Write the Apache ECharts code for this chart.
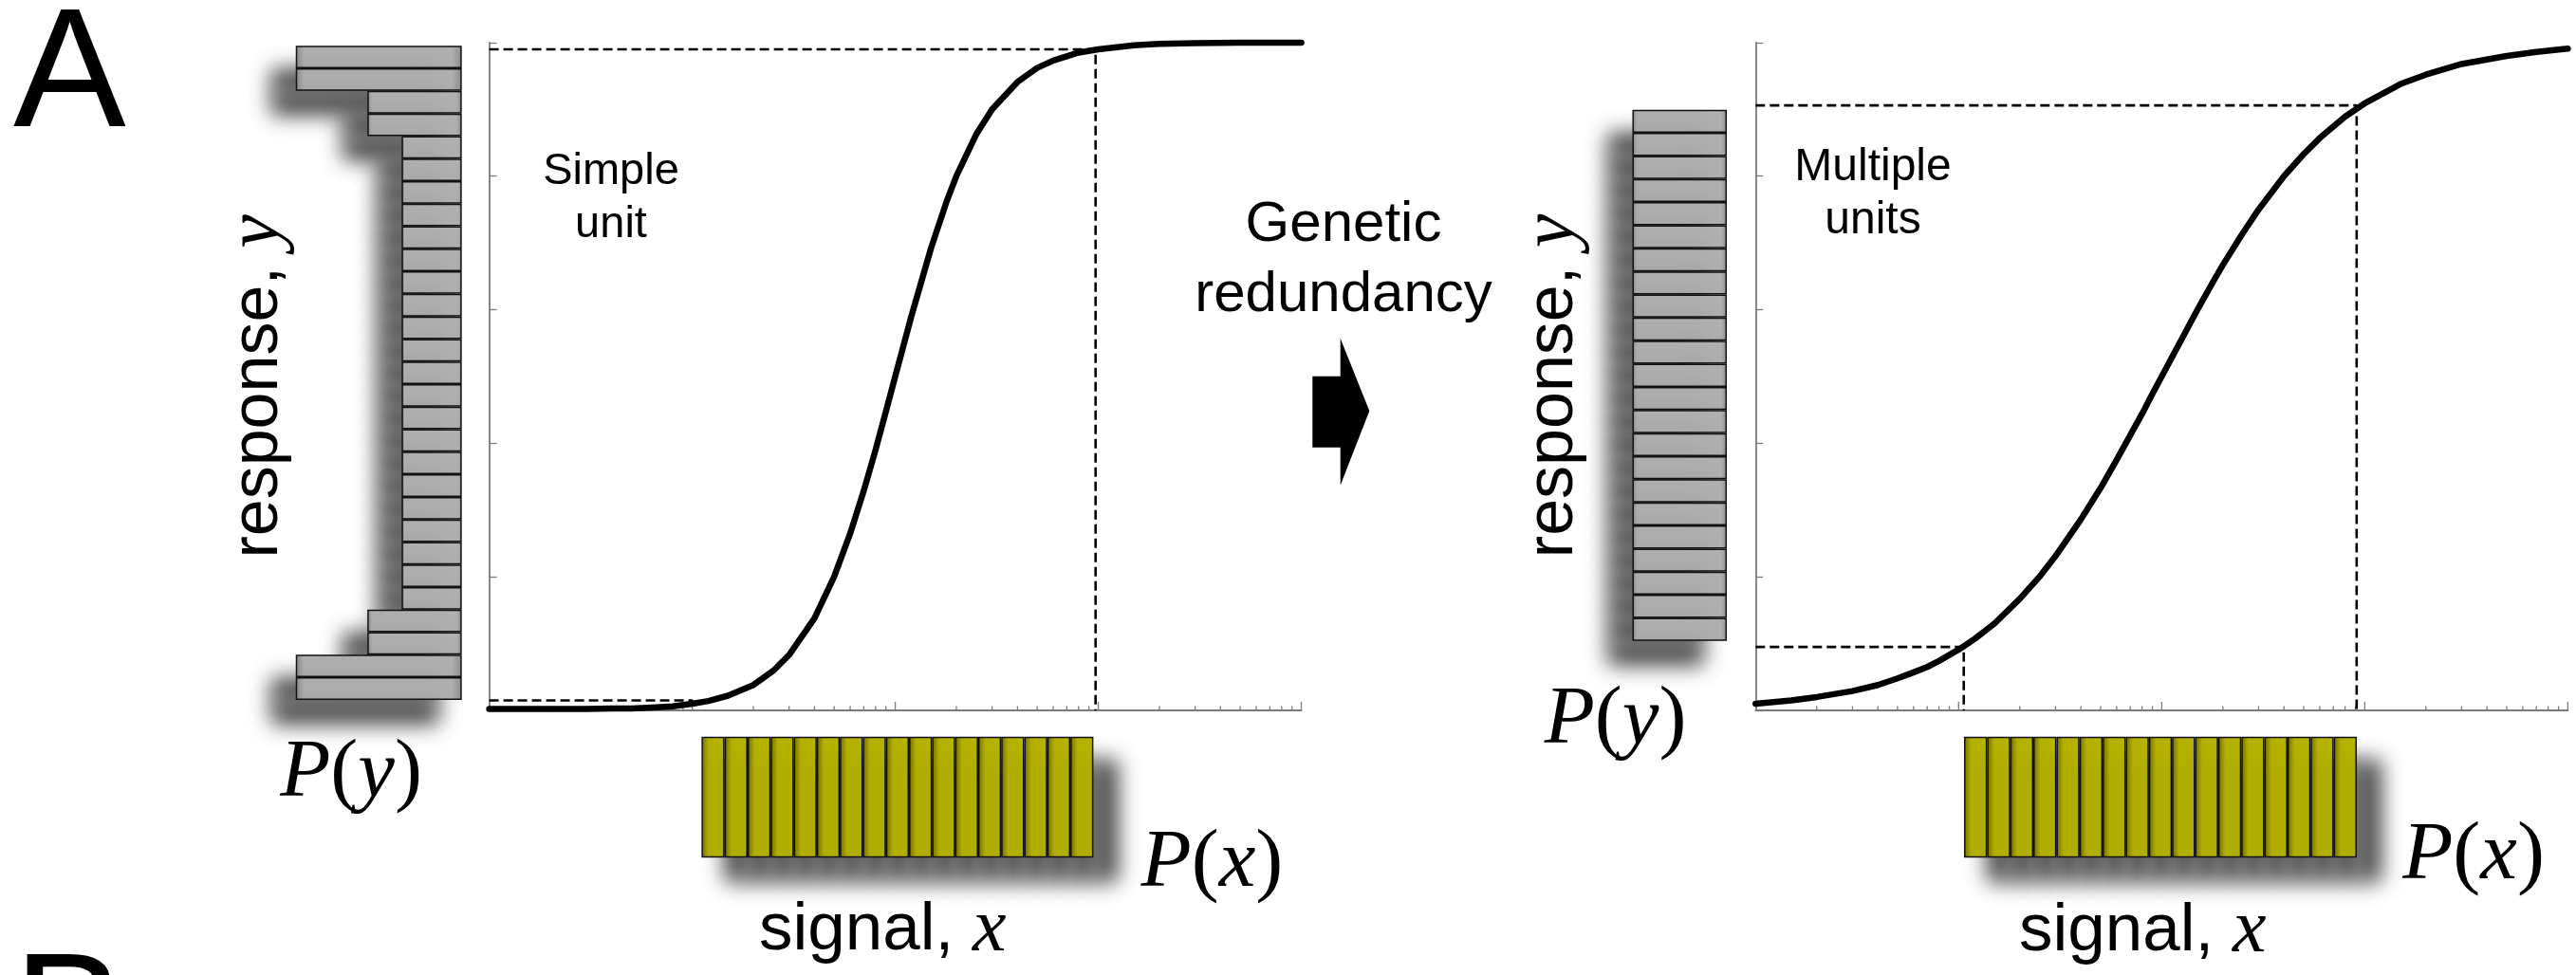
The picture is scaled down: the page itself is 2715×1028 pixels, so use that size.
<!DOCTYPE html>
<html>
<head>
<meta charset="utf-8">
<script src="https://cdn.jsdelivr.net/npm/echarts@6/dist/echarts.min.js"></script>
<style>
  html, body { margin: 0; padding: 0; background: #ffffff; }
  #fig { width: 2715px; height: 1028px; }
</style>
</head>
<body>
<div id="fig"></div>
<script>
// Signal values at which the response curves are sampled (log-spaced)
const signalSamples = [1, 1.5, 2, 3, 4, 5, 6, 7, 8, 10, 12, 15, 20, 25, 30, 40, 50, 60, 70, 80, 90, 100,
  120, 150, 180, 200, 250, 300, 400, 500, 600, 800, 1000, 1500, 2000, 3000, 5000, 7000, 10000];

// ---- Dose-response of a single unit (steep) ----
const responseSingle = [0.002, 0.002, 0.002, 0.002, 0.003, 0.003, 0.004, 0.005, 0.006, 0.010, 0.014, 0.022,
  0.038, 0.059, 0.083, 0.138, 0.200, 0.265, 0.329, 0.390, 0.448, 0.500,
  0.590, 0.692, 0.764, 0.800, 0.862, 0.900, 0.941, 0.962, 0.973, 0.985, 0.990, 0.996, 0.998, 0.999, 1.0, 1.0, 1.0];

// ---- Dose-response of several redundant units (graded) ----
const responseMulti = [0.010, 0.015, 0.020, 0.029, 0.038, 0.048, 0.057, 0.065, 0.074, 0.091, 0.107, 0.130,
  0.167, 0.200, 0.231, 0.286, 0.333, 0.375, 0.412, 0.444, 0.474, 0.500,
  0.545, 0.600, 0.643, 0.667, 0.714, 0.750, 0.800, 0.833, 0.857, 0.889, 0.909, 0.938, 0.952, 0.968, 0.980, 0.986, 0.991];

// Dashed guides: [signal, response] at the low and high end of the input range
const guideSingleLow  = [10, 0.015];
const guideSingleHigh = [970, 0.99];
const guideMultiLow   = [10.6, 0.095];
const guideMultiHigh  = [912, 0.906];

// Output distributions P(y), one bin per row, top row = highest response
const responseHistSingle = [2.76, 2.76, 1.57, 1.57,
  1, 1, 1, 1, 1, 1, 1, 1, 1, 1, 1, 1, 1, 1, 1, 1, 1, 1, 1, 1, 1,
  1.57, 1.57, 2.76, 2.76];
const responseHistMulti = [1.57, 1.57, 1.57, 1.57, 1.57, 1.57, 1.57, 1.57, 1.57, 1.57, 1.57, 1.57,
  1.57, 1.57, 1.57, 1.57, 1.57, 1.57, 1.57, 1.57, 1.57, 1.57, 1.57];

// Input distribution P(x): uniform over the operating range
const signalHist = [1, 1, 1, 1, 1, 1, 1, 1, 1, 1, 1, 1, 1, 1, 1, 1, 1];

// Log-axis tick marks
const majorTicks = [10, 100, 1000, 10000];
const decades = [1, 10, 100, 1000];
const minorSteps = [2, 3, 4, 5, 6, 7, 8, 9];

const AXIS_GRAY = '#7a7a7a';
const SANS = '"Liberation Sans", Arial, Helvetica, sans-serif';
const SERIF = '"Liberation Serif", "Times New Roman", serif';

const tickData = majorTicks.map(v => [v, 0, 9]);
decades.forEach(d => minorSteps.forEach(m => tickData.push([d * m, 0, 4.5])));

function logXAxis(grid) {
  return {
    type: 'log', logBase: 10, min: 1, max: 10000, gridIndex: grid,
    axisLine: { show: true, onZero: false, lineStyle: { color: AXIS_GRAY, width: 1.8 } },
    axisTick: { show: false }, axisLabel: { show: false },
    splitLine: { show: false }, minorTick: { show: false }
  };
}
function responseYAxis(grid) {
  return {
    type: 'value', min: 0, max: 1, interval: 0.2, gridIndex: grid,
    axisLine: { show: true, onZero: false, lineStyle: { color: AXIS_GRAY, width: 1.8 } },
    axisTick: { show: true, inside: true, length: 8, lineStyle: { color: AXIS_GRAY, width: 1.3 } },
    axisLabel: { show: false }, splitLine: { show: false }
  };
}
function hidden(extra) { return Object.assign({ show: false, splitLine: { show: false } }, extra); }

function panelSeries(axis, response, low, high) {
  const dash = { color: '#000', width: 2.6, type: [10, 5] };
  const guide = (pts) => ({
    type: 'line', xAxisIndex: axis, yAxisIndex: axis, data: pts,
    showSymbol: false, symbol: 'none', silent: true, clip: false, z: 2,
    lineStyle: dash
  });
  return [
    guide([[1, high[1]], high, [high[0], 0]]),
    guide([[1, low[1]], low, [low[0], 0]]),
    {
      type: 'custom', xAxisIndex: axis, yAxisIndex: axis, data: tickData,
      encode: { x: 0, y: 1 }, clip: false, silent: true, z: 1,
      renderItem: function (params, api) {
        const p = api.coord([api.value(0), 0]);
        const len = api.value(2);
        return { type: 'line', shape: { x1: p[0], y1: p[1], x2: p[0], y2: p[1] - len },
                 style: { stroke: AXIS_GRAY, lineWidth: 1.3 } };
      }
    },
    {
      type: 'line', xAxisIndex: axis, yAxisIndex: axis,
      data: signalSamples.map((s, i) => [s, response[i]]),
      smooth: false, showSymbol: false, symbol: 'none',
      clip: false, silent: true, z: 3,
      lineStyle: { color: '#000', width: 6.5, cap: 'round', join: 'round' }
    }
  ];
}

const grayFill = new echarts.graphic.LinearGradient(0, 0, 1, 0, [
  { offset: 0, color: '#8a8a8a' }, { offset: 0.05, color: '#b0b0b0' },
  { offset: 0.94, color: '#b0b0b0' }, { offset: 1, color: '#8a8a8a' }
]);
const yellowFill = new echarts.graphic.LinearGradient(0, 0, 1, 0, [
  { offset: 0, color: '#716e00' }, { offset: 0.3, color: '#b3b000' },
  { offset: 0.9, color: '#b8b500' }, { offset: 1, color: '#a19e00' }
]);

function histBar(axis, data, fill, shadowX) {
  return {
    type: 'bar', xAxisIndex: axis, yAxisIndex: axis, data: data,
    barCategoryGap: '0%', silent: true, z: 2,
    itemStyle: {
      color: fill, borderColor: '#111', borderWidth: 1.5,
      shadowColor: '#3a3a3a', shadowBlur: 22, shadowOffsetX: shadowX, shadowOffsetY: 25
    }
  };
}

function responseLabel(x, y) {
  return {
    type: 'text', x: x, y: y, rotation: Math.PI / 2,
    style: {
      text: '{a|response, }{b|y}', align: 'center', verticalAlign: 'middle',
      textAlign: 'center', textVerticalAlign: 'middle',
      rich: {
        a: { fontFamily: SANS, fontSize: 70, fill: '#000' },
        b: { fontFamily: SERIF, fontStyle: 'italic', fontSize: 80, fill: '#000' }
      }
    }
  };
}
function signalLabel(x, y) {
  return {
    type: 'text', x: x, y: y,
    style: {
      text: '{a|signal, }{b|x}', align: 'left', verticalAlign: 'middle',
      textAlign: 'left', textVerticalAlign: 'middle',
      rich: {
        a: { fontFamily: SANS, fontSize: 71, fill: '#000' },
        b: { fontFamily: SERIF, fontStyle: 'italic', fontSize: 80, fill: '#000' }
      }
    }
  };
}
function probLabel(v, x, y) {
  return {
    type: 'text', x: x, y: y,
    style: {
      text: '{i|P}{n|(}{i|' + v + '}{n|)}', align: 'center', verticalAlign: 'middle',
      textAlign: 'center', textVerticalAlign: 'middle',
      rich: {
        i: { fontFamily: SERIF, fontStyle: 'italic', fontSize: 87, fill: '#000' },
        n: { fontFamily: SERIF, fontSize: 87, fill: '#000' }
      }
    }
  };
}
function note(text, x, y, size, lh) {
  return { type: 'text', x: x, y: y, style: { text: text, font: size + 'px ' + SANS, lineHeight: lh, fill: '#000',
    align: 'center', verticalAlign: 'middle', textAlign: 'center', textVerticalAlign: 'middle' } };
}
function letter(text, x, y) {
  return { type: 'text', x: x, y: y, style: { text: text, font: '178px ' + SANS, fill: '#000',
    align: 'left', verticalAlign: 'middle', textAlign: 'left', textVerticalAlign: 'middle' } };
}

const idx = arr => arr.map((_, i) => String(i + 1));

const option = {
  backgroundColor: '#ffffff',
  animation: false,
  grid: [
    { left: 515.6, top: 44.9, width: 855.9, height: 704.1 },   // single-unit curve
    { left: 1850.3, top: 44.9, width: 856.1, height: 704.1 },  // multi-unit curve
    { left: 286.7, top: 48.3, width: 200, height: 689.6 },     // P(y), single
    { left: 1620, top: 115.7, width: 200, height: 560.1 },     // P(y), multi
    { left: 739.4, top: 776.7, width: 413, height: 127.6 },    // P(x), single
    { left: 2070, top: 776.7, width: 414, height: 127.6 }      // P(x), multi
  ],
  xAxis: [
    logXAxis(0), logXAxis(1),
    hidden({ type: 'value', gridIndex: 2, min: 0, max: 3.155, inverse: true }),
    hidden({ type: 'value', gridIndex: 3, min: 0, max: 3.155, inverse: true }),
    hidden({ type: 'category', gridIndex: 4, data: idx(signalHist) }),
    hidden({ type: 'category', gridIndex: 5, data: idx(signalHist) })
  ],
  yAxis: [
    responseYAxis(0), responseYAxis(1),
    hidden({ type: 'category', gridIndex: 2, inverse: true, data: idx(responseHistSingle) }),
    hidden({ type: 'category', gridIndex: 3, inverse: true, data: idx(responseHistMulti) }),
    hidden({ type: 'value', gridIndex: 4, min: 0, max: 1 }),
    hidden({ type: 'value', gridIndex: 5, min: 0, max: 1 })
  ],
  series: [].concat(
    panelSeries(0, responseSingle, guideSingleLow, guideSingleHigh),
    panelSeries(1, responseMulti, guideMultiLow, guideMultiHigh),
    [
      histBar(2, responseHistSingle, grayFill, -25),
      histBar(3, responseHistMulti, grayFill, -25),
      histBar(4, signalHist, yellowFill, 25),
      histBar(5, signalHist, yellowFill, 25)
    ]
  ),
  graphic: [
    letter('A', 14, 84),
    letter('B', 14, 1080),
    note('Simple\nunit', 644, 209, 47, 56),
    note('Multiple\nunits', 1974, 205, 48, 56),
    note('Genetic\nredundancy', 1416, 274, 60, 74),
    // block arrow between the two panels
    { type: 'polygon', shape: { points: [[1383.3, 396.7], [1412.7, 396.7], [1412.7, 356.7], [1443.3, 433.3], [1412.7, 511.7], [1412.7, 471.7], [1383.3, 471.7]] }, style: { fill: '#000' } },
    responseLabel(272.4, 407.4),
    responseLabel(1637.4, 407.0),
    signalLabel(800, 981),
    signalLabel(2128, 982),
    probLabel('y', 370, 816.6),
    probLabel('y', 1702.5, 760.6),
    probLabel('x', 1277.4, 911),
    probLabel('x', 2607, 902.7)
  ]
};

const chart = echarts.init(document.getElementById('fig'), null, { renderer: 'canvas', width: 2715, height: 1028 });
chart.setOption(option);
</script>
</body>
</html>
